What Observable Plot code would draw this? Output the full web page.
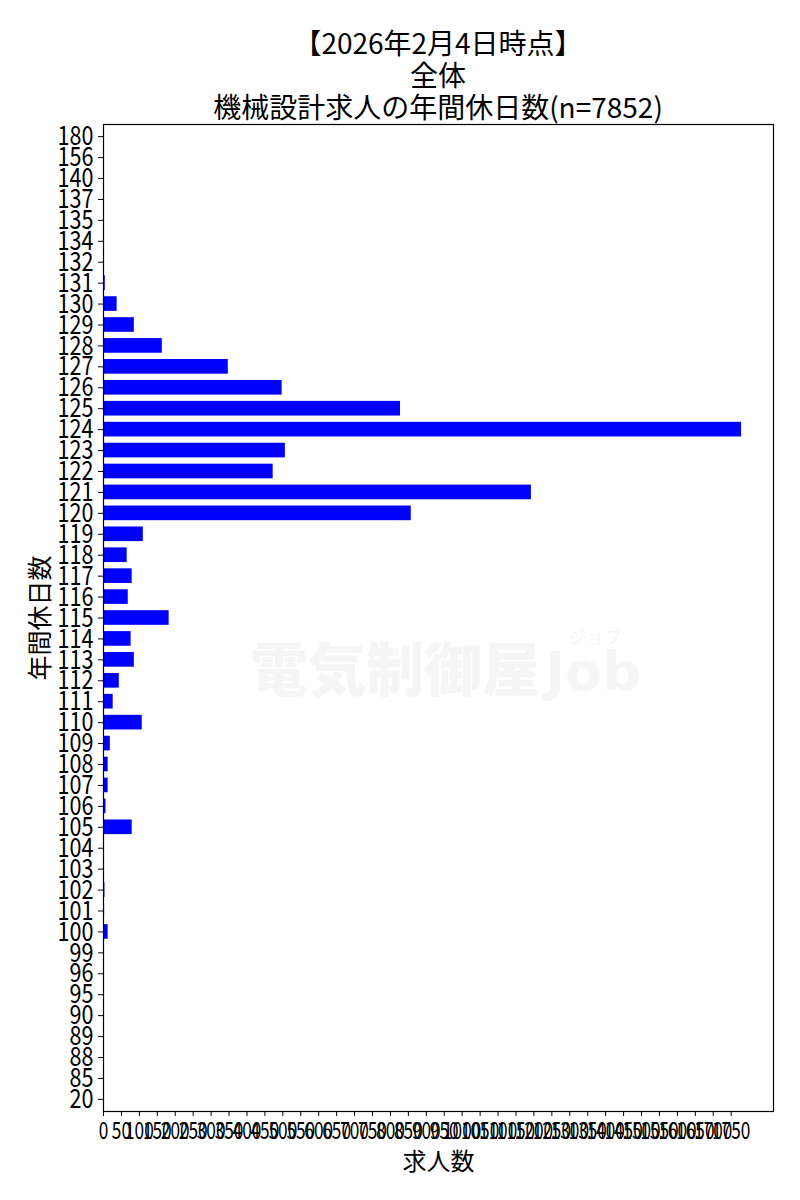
<!DOCTYPE html>
<html>
<head>
<meta charset="utf-8">
<script src="https://cdn.jsdelivr.net/npm/d3@7"></script>
<script src="https://cdn.jsdelivr.net/npm/@observablehq/plot@0.6"></script>
<style>
  html, body { margin: 0; padding: 0; background: #fff; }
  #wrap { position: relative; width: 800px; height: 1200px; }
  #title {
    position: absolute; left: 103px; width: 670px; top: 26px; z-index: 2;
    text-align: center; font-family: "Noto Sans CJK JP", sans-serif;
    font-size: 28px; line-height: 32px; color: #000;
  }
  #title div { white-space: nowrap; }
  #chart { position: absolute; left: 0; top: 0; z-index: 1; }
  #wm { position: absolute; left: 250px; top: 626px; width: 420px; height: 80px; color: #f5f5f5; z-index: 0;
        font-family: "Noto Sans CJK JP", sans-serif; font-weight: 900; white-space: nowrap; }
  #wm .main { position: absolute; left: 0; top: 0; font-size: 58px; line-height: 80px; }
  #wm .job { position: absolute; left: 295px; top: 14px; font-family: "DejaVu Sans", sans-serif; font-size: 54px; line-height: 64px; font-weight: bold; }
  #wm .kana { position: absolute; left: 318px; top: 0px; font-size: 18px; line-height: 20px; font-weight: 400; }
</style>
</head>
<body>
<div id="wrap">
  <div id="title"></div>
  <div id="wm"><span class="main">電気制御屋</span><span class="kana">ジョブ</span><span class="job">Job</span></div>
  <div id="chart"></div>
</div>
<script>
const titleLines = ["【2026年2月4日時点】", "全体", "機械設計求人の年間休日数(n=7852)"];
const xLabel = "求人数";
const yLabel = "年間休日数";

// categories, top to bottom
const days = ["180","156","140","137","135","134","132","131","130","129","128","127","126","125","124","123","122","121","120","119","118","117","116","115","114","113","112","111","110","109","108","107","106","105","104","103","102","101","100","99","96","95","90","89","88","85","20"];
const counts = [1,1,1,1,1,1,1,5,38,86,164,348,498,828,1779,507,473,1193,858,111,66,80,69,183,77,86,44,27,108,19,13,13,7,80,1,1,4,3,13,1,1,1,1,1,1,1,1];
const xTicks = d3.range(0, 1751, 50);

const tEl = document.getElementById("title");
titleLines.forEach(t => { const d = document.createElement("div"); d.textContent = t; tEl.appendChild(d); });

const rows = days.map((d, i) => ({day: d, count: counts[i]}));
const xMax = d3.max(counts) * 1.05;
const numFont = "'Noto Sans CJK JP', sans-serif";

const chart = Plot.plot({
  width: 800,
  height: 1200,
  marginTop: 124,
  marginBottom: 89,
  marginLeft: 103,
  marginRight: 27,
  style: {background: "transparent", color: "#000", fontFamily: "'Noto Sans CJK JP', sans-serif", overflow: "visible"},
  x: {domain: [0, xMax], label: null},
  y: {type: "band", domain: days, paddingInner: 0.3, paddingOuter: 0.23, label: null},
  marks: [
    Plot.barX(rows, {x: "count", y: "day", fill: "#0000ff"}),
    Plot.frame({stroke: "#000", strokeWidth: 1.2}),
    Plot.axisY({tickSize: 5, tickPadding: 5, fontSize: 27, fontFamily: numFont, label: null}),
    Plot.axisX({ticks: xTicks, tickFormat: d => String(d), tickSize: 5, tickPadding: 5, fontSize: 24, fontFamily: numFont, label: null}),
    Plot.text([xLabel], {frameAnchor: "bottom", dy: 51, fontSize: 24, lineAnchor: "middle", textAnchor: "middle"}),
    Plot.text([yLabel], {frameAnchor: "left", dx: -63, rotate: -90, fontSize: 25, lineAnchor: "middle", textAnchor: "middle"})
  ]
});

// narrow the digit glyphs horizontally (condensed look of the reference font)
function condense(sel, s) {
  chart.querySelectorAll(sel).forEach(t => {
    const tr = t.getAttribute("transform") || "";
    t.setAttribute("transform", `${tr} scale(${s},1)`);
  });
}
condense('g[aria-label="y-axis tick label"] text', 0.8);
condense('g[aria-label="x-axis tick label"] text', 0.72);

document.getElementById("chart").appendChild(chart);
</script>
</body>
</html>
